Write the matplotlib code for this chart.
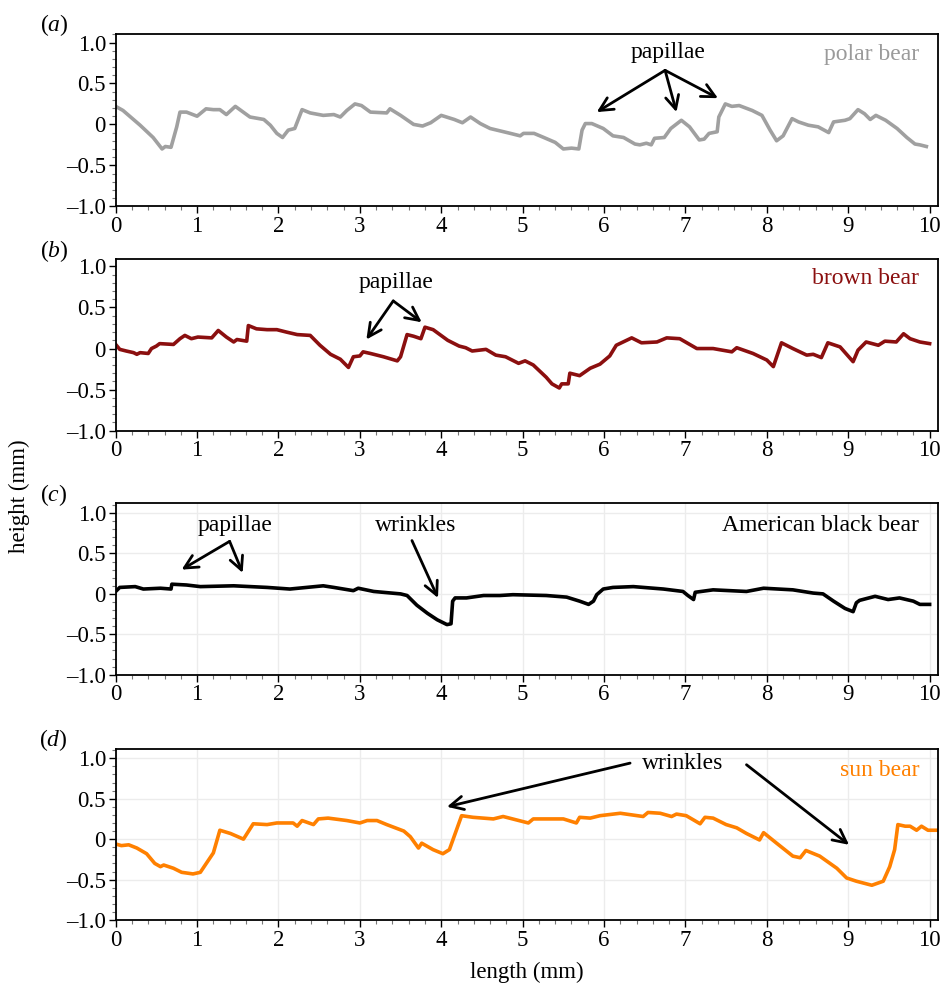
import matplotlib
matplotlib.use("Agg")
import matplotlib.pyplot as plt
from matplotlib.ticker import MultipleLocator, FuncFormatter

plt.rcParams['font.family'] = ['Liberation Serif', 'DejaVu Serif']
plt.rcParams['mathtext.fontset'] = 'custom'
plt.rcParams['mathtext.it'] = 'Liberation Serif:italic'
plt.rcParams['mathtext.rm'] = 'Liberation Serif'

# ---- data (length mm, height mm) ----
polar_x = [0, 0.09, 0.3, 0.46, 0.57, 0.61, 0.68, 0.75, 0.79, 0.87, 1.0, 1.11, 1.2, 1.28, 1.36, 1.47, 1.65,
           1.82, 1.9, 1.98, 2.05, 2.12, 2.2, 2.29, 2.39, 2.55, 2.68, 2.76, 2.84, 2.94, 3.02, 3.13, 3.33,
           3.37, 3.5, 3.66, 3.77, 3.87, 4.0, 4.16, 4.26, 4.36, 4.48, 4.6, 4.85, 4.97, 5.01, 5.14, 5.26,
           5.4, 5.5, 5.6, 5.69, 5.73, 5.77, 5.85, 5.99, 6.11, 6.24, 6.38, 6.44, 6.52, 6.58, 6.62, 6.74,
           6.82, 6.95, 7.05, 7.17, 7.23, 7.29, 7.39, 7.41, 7.49, 7.57, 7.66, 7.82, 7.94, 8.04, 8.12, 8.2,
           8.31, 8.39, 8.51, 8.63, 8.76, 8.82, 8.96, 9.02, 9.12, 9.2, 9.27, 9.34, 9.46, 9.6, 9.72, 9.82,
           9.88, 9.96]
polar_y = [0.22, 0.17, -0.01, -0.16, -0.30, -0.27, -0.28, -0.03, 0.15, 0.15, 0.10, 0.19, 0.18, 0.18, 0.12,
           0.22, 0.09, 0.06, -0.01, -0.11, -0.16, -0.07, -0.05, 0.18, 0.14, 0.11, 0.12, 0.09, 0.17, 0.25,
           0.23, 0.15, 0.14, 0.19, 0.11, 0.0, -0.02, 0.02, 0.11, 0.06, 0.02, 0.09, 0.01, -0.05, -0.11,
           -0.14, -0.11, -0.11, -0.16, -0.22, -0.30, -0.29, -0.30, -0.07, 0.01, 0.01, -0.05, -0.14, -0.16,
           -0.24, -0.25, -0.23, -0.25, -0.17, -0.16, -0.05, 0.05, -0.03, -0.19, -0.18, -0.11, -0.09, 0.09,
           0.25, 0.22, 0.23, 0.17, 0.11, -0.07, -0.20, -0.14, 0.07, 0.03, -0.01, -0.03, -0.10, 0.03, 0.05,
           0.07, 0.18, 0.13, 0.06, 0.11, 0.05, -0.05, -0.16, -0.24, -0.25, -0.27]

brown_x = [0, 0.05, 0.13, 0.22, 0.26, 0.3, 0.4, 0.44, 0.5, 0.54, 0.71, 0.79, 0.85, 0.93, 1.01, 1.18, 1.26,
           1.36, 1.45, 1.49, 1.61, 1.63, 1.73, 1.86, 1.98, 2.1, 2.23, 2.39, 2.51, 2.64, 2.76, 2.86, 2.92,
           3.0, 3.04, 3.13, 3.29, 3.46, 3.5, 3.58, 3.66, 3.75, 3.8, 3.9, 4.08, 4.22, 4.3, 4.38, 4.55, 4.67,
           4.79, 4.95, 5.03, 5.13, 5.29, 5.36, 5.45, 5.48, 5.56, 5.58, 5.7, 5.83, 5.95, 6.07, 6.15, 6.34,
           6.46, 6.65, 6.77, 6.93, 7.14, 7.34, 7.57, 7.63, 7.83, 8.0, 8.08, 8.18, 8.32, 8.49, 8.57, 8.67,
           8.75, 8.9, 9.06, 9.12, 9.22, 9.37, 9.45, 9.59, 9.68, 9.76, 9.88, 10.0]
brown_y = [0.05, -0.01, -0.03, -0.05, -0.07, -0.05, -0.06, 0.0, 0.03, 0.06, 0.05, 0.12, 0.16, 0.12, 0.14,
           0.13, 0.22, 0.14, 0.08, 0.11, 0.09, 0.28, 0.24, 0.23, 0.23, 0.20, 0.17, 0.16, 0.04, -0.07, -0.13,
           -0.23, -0.10, -0.09, -0.04, -0.06, -0.10, -0.15, -0.10, 0.17, 0.15, 0.12, 0.26, 0.23, 0.10, 0.03,
           0.01, -0.03, -0.01, -0.08, -0.10, -0.18, -0.15, -0.20, -0.35, -0.43, -0.48, -0.43, -0.43, -0.30,
           -0.33, -0.24, -0.19, -0.09, 0.04, 0.13, 0.07, 0.08, 0.13, 0.12, 0.0, 0.0, -0.04, 0.01, -0.06,
           -0.14, -0.22, 0.07, 0.0, -0.08, -0.07, -0.11, 0.07, 0.02, -0.16, -0.02, 0.08, 0.04, 0.09, 0.08,
           0.18, 0.12, 0.08, 0.06]

black_x = [0, 0.05, 0.24, 0.34, 0.55, 0.68, 0.69, 0.87, 1.04, 1.45, 1.86, 2.14, 2.55, 2.68, 2.92, 2.98,
           3.17, 3.5, 3.58, 3.7, 3.83, 3.95, 4.07, 4.12, 4.14, 4.17, 4.31, 4.52, 4.72, 4.88, 5.29, 5.54,
           5.7, 5.81, 5.87, 5.91, 5.99, 6.11, 6.36, 6.73, 6.97, 7.03, 7.1, 7.12, 7.34, 7.75, 7.96, 8.32,
           8.57, 8.69, 8.82, 8.96, 9.06, 9.1, 9.14, 9.33, 9.49, 9.63, 9.8, 9.88, 10.0]
black_y = [0.03, 0.08, 0.09, 0.06, 0.07, 0.06, 0.12, 0.11, 0.09, 0.10, 0.08, 0.06, 0.10, 0.08, 0.04, 0.07,
           0.03, 0.0, -0.02, -0.14, -0.24, -0.32, -0.38, -0.37, -0.09, -0.05, -0.05, -0.02, -0.02, -0.01,
           -0.02, -0.04, -0.09, -0.13, -0.09, -0.01, 0.06, 0.08, 0.09, 0.06, 0.03, -0.02, -0.07, 0.02, 0.05,
           0.03, 0.07, 0.05, 0.01, 0.0, -0.09, -0.18, -0.22, -0.11, -0.08, -0.03, -0.07, -0.05, -0.09,
           -0.13, -0.13]

sun_x = [0, 0.07, 0.16, 0.26, 0.38, 0.48, 0.55, 0.59, 0.71, 0.81, 0.95, 1.04, 1.2, 1.28, 1.41, 1.57, 1.69,
         1.86, 1.98, 2.18, 2.23, 2.29, 2.43, 2.49, 2.61, 2.84, 3.0, 3.09, 3.21, 3.33, 3.54, 3.62, 3.72,
         3.76, 3.9, 4.02, 4.1, 4.25, 4.39, 4.64, 4.76, 5.07, 5.13, 5.5, 5.66, 5.7, 5.83, 5.95, 6.2, 6.48,
         6.54, 6.69, 6.83, 6.89, 7.01, 7.18, 7.24, 7.34, 7.5, 7.63, 7.75, 7.91, 7.96, 8.12, 8.32, 8.41,
         8.48, 8.65, 8.86, 8.98, 9.1, 9.29, 9.43, 9.51, 9.57, 9.61, 9.7, 9.76, 9.84, 9.9, 9.98, 10.1]
sun_y = [-0.06, -0.08, -0.07, -0.11, -0.18, -0.30, -0.34, -0.32, -0.36, -0.41, -0.43, -0.41, -0.17, 0.11,
         0.07, 0.0, 0.19, 0.18, 0.20, 0.20, 0.16, 0.23, 0.18, 0.25, 0.26, 0.23, 0.20, 0.23, 0.23, 0.18, 0.10,
         0.03, -0.11, -0.05, -0.13, -0.18, -0.13, 0.29, 0.27, 0.25, 0.28, 0.20, 0.25, 0.25, 0.20, 0.27, 0.26,
         0.29, 0.32, 0.28, 0.33, 0.32, 0.28, 0.31, 0.29, 0.19, 0.27, 0.26, 0.18, 0.14, 0.07, -0.01, 0.08,
         -0.05, -0.21, -0.23, -0.14, -0.21, -0.36, -0.48, -0.52, -0.57, -0.52, -0.34, -0.13, 0.18, 0.16,
         0.16, 0.11, 0.16, 0.11, 0.11]

species = ['polar bear', 'brown bear', 'American black bear', 'sun bear']
panel_tags = ['a', 'b', 'c', 'd']
colors = ['#a0a0a0', '#8b0f0f', '#000000', '#ff8000']
label_colors = ['#9a9a9a', '#8b0f0f', '#000000', '#ff8000']
xs = [polar_x, brown_x, black_x, sun_x]
ys = [polar_y, brown_y, black_y, sun_y]

# axes boxes in figure fraction
boxes = [[0.1228, 0.7908, 0.8727, 0.1744],
         [0.1228, 0.5632, 0.8727, 0.1741],
         [0.1228, 0.3157, 0.8727, 0.1738],
         [0.1228, 0.0669, 0.8727, 0.1731]]
ytops = [1.10, 1.09, 1.12, 1.11]
tag_pos = [(0.058, 0.975), (0.058, 0.745), (0.057, 0.498), (0.057, 0.249)]


def yfmt(v, pos):
    if abs(v) < 1e-9:
        return '0'
    return ('%.1f' % v).replace('-', '\u2013')


fig = plt.figure(figsize=(9.42, 9.86), dpi=100)
axes = []
for i in range(4):
    ax = fig.add_axes(boxes[i])
    axes.append(ax)
    if i >= 2:
        ax.grid(True, which='major', color='#ececec', lw=1.0)
        ax.set_axisbelow(True)
    ax.plot(xs[i], ys[i], color=colors[i], lw=2.6, solid_joinstyle='round')
    ax.set_xlim(0, 10.1)
    ax.set_ylim(-1.0, ytops[i])
    ax.xaxis.set_major_locator(MultipleLocator(1))
    ax.xaxis.set_minor_locator(MultipleLocator(0.2))
    ax.yaxis.set_major_locator(MultipleLocator(0.5))
    ax.yaxis.set_minor_locator(MultipleLocator(0.1))
    ax.yaxis.set_major_formatter(FuncFormatter(yfmt))
    ax.tick_params(which='major', direction='out', length=5, width=1, labelsize=16.5, pad=2)
    ax.tick_params(which='minor', direction='out', length=3, width=0.8, color='#777777')
    for s in ax.spines.values():
        s.set_linewidth(1.3)
    ax.text(9.87, 0.85, species[i], color=label_colors[i], fontsize=17, ha='right', va='center')
    fig.text(tag_pos[i][0], tag_pos[i][1], '($\\mathit{%s}$)' % panel_tags[i], fontsize=17,
             ha='center', va='center')

arrow = dict(arrowstyle='->', color='black', lw=2, mutation_scale=24, shrinkA=0, shrinkB=0)

# (a) papillae
ax = axes[0]
ax.text(6.79, 0.88, 'papillae', fontsize=17, ha='center', va='center')
for tip in [(5.91, 0.15), (6.89, 0.15), (7.40, 0.32)]:
    ax.annotate('', xy=tip, xytext=(6.75, 0.66), arrowprops=arrow)

# (b) papillae
ax = axes[1]
ax.text(3.45, 0.80, 'papillae', fontsize=17, ha='center', va='center')
for tip in [(3.08, 0.11), (3.76, 0.32)]:
    ax.annotate('', xy=tip, xytext=(3.41, 0.58), arrowprops=arrow)

# (c) papillae + wrinkles
ax = axes[2]
ax.text(1.47, 0.85, 'papillae', fontsize=17, ha='center', va='center')
for tip in [(0.81, 0.30), (1.56, 0.26)]:
    ax.annotate('', xy=tip, xytext=(1.40, 0.65), arrowprops=arrow)
ax.text(3.68, 0.85, 'wrinkles', fontsize=17, ha='center', va='center')
ax.annotate('', xy=(3.96, -0.05), xytext=(3.64, 0.66), arrowprops=arrow)

# (d) wrinkles
ax = axes[3]
ax.text(6.97, 0.93, 'wrinkles', fontsize=17, ha='center', va='center')
ax.annotate('', xy=(4.07, 0.40), xytext=(6.32, 0.94), arrowprops=arrow)
ax.annotate('', xy=(9.01, -0.07), xytext=(7.75, 0.92), arrowprops=arrow)

fig.text(0.021, 0.497, 'height (mm)', rotation=90, fontsize=16.5, ha='center', va='center')
fig.text(0.559, 0.014, 'length (mm)', fontsize=16.5, ha='center', va='center')

fig.savefig('out.png', dpi=100)
